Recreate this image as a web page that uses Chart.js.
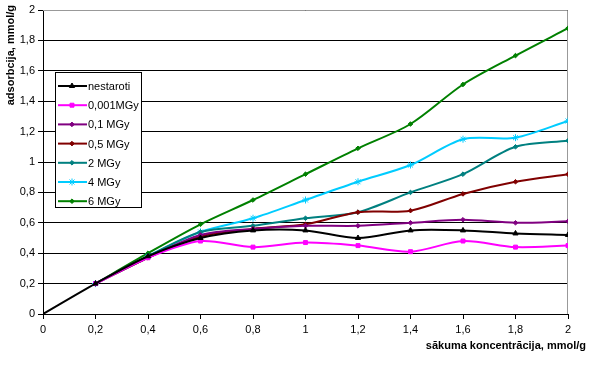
<!DOCTYPE html>
<html>
<head>
<meta charset="utf-8">
<script src="https://cdn.jsdelivr.net/npm/chart.js@4"></script>
<style>
  html, body { margin: 0; padding: 0; background: #fff; }
  #wrap { width: 600px; height: 366px; }
</style>
</head>
<body>
<div id="wrap"><canvas id="adsChart" width="600" height="366"></canvas></div>
<script>
// x values (initial concentration, mmol/g)
const concentrations = [0, 0.2, 0.4, 0.6, 0.8, 1.0, 1.2, 1.4, 1.6, 1.8, 2.0];

// adsorption, mmol/g
const nestaroti = [0, 0.2, 0.38, 0.50, 0.55, 0.55, 0.50, 0.55, 0.55, 0.53, 0.52];
const mgy0001   = [null, 0.2, 0.37, 0.48, 0.44, 0.47, 0.45, 0.41, 0.48, 0.44, 0.45];
const mgy01     = [null, 0.2, 0.37, 0.52, 0.56, 0.58, 0.58, 0.60, 0.62, 0.60, 0.61];
const mgy05     = [null, 0.2, 0.37, 0.51, 0.56, 0.59, 0.67, 0.68, 0.79, 0.87, 0.92];
const mgy2      = [null, 0.2, 0.38, 0.54, 0.58, 0.63, 0.67, 0.80, 0.92, 1.10, 1.14];
const mgy4      = [null, 0.2, 0.38, 0.54, 0.63, 0.75, 0.87, 0.98, 1.15, 1.16, 1.27];
const mgy6      = [null, 0.2, 0.40, 0.59, 0.75, 0.92, 1.09, 1.25, 1.51, 1.70, 1.88];

const seriesLabels = ['nestaroti', '0,001MGy', '0,1 MGy', '0,5 MGy', '2 MGy', '4 MGy', '6 MGy'];
const seriesValues = [nestaroti, mgy0001, mgy01, mgy05, mgy2, mgy4, mgy6];
const seriesColors = ['#000000', '#FF00FF', '#800080', '#800000', '#008080', '#00CCFF', '#008000'];
const seriesMarkers = ['triangle', 'rect', 'rectRot', 'rectRot', 'rectRot', 'star', 'rectRot'];
const markerSizes = [3, 2.8, 2.3, 2.3, 2.3, 3.5, 2.3];

const FONT = '"Liberation Sans", Arial, sans-serif';

function fmt(v) {
    return (Math.round(v * 10) / 10).toString().replace('.', ',');
}

// Frame, titles and inset legend
const decorPlugin = {
    id: 'decor',
    beforeDatasetsDraw(chart) {
        const { ctx, chartArea: a } = chart;
        ctx.save();
        ctx.strokeStyle = '#999';
        ctx.lineWidth = 1;
        ctx.beginPath();
        ctx.moveTo(a.left, a.top + 0.5);
        ctx.lineTo(a.right - 0.5, a.top + 0.5);
        ctx.lineTo(a.right - 0.5, a.bottom);
        ctx.stroke();
        ctx.restore();
    },
    afterDraw(chart) {
        const { ctx } = chart;
        ctx.save();
        // axis titles
        ctx.fillStyle = '#000';
        ctx.font = 'bold 11px ' + FONT;
        ctx.textBaseline = 'middle';
        ctx.textAlign = 'right';
        ctx.fillText('sākuma koncentrācija, mmol/g', 586, 346);
        ctx.translate(11, 5);
        ctx.rotate(-Math.PI / 2);
        ctx.textAlign = 'right';
        ctx.fillText('adsorbcija, mmol/g', 0, 0);
        ctx.restore();

        // legend box
        const bx = 55, by = 72, bw = 86, bh = 135;
        ctx.save();
        ctx.fillStyle = '#fff';
        ctx.fillRect(bx, by, bw, bh);
        ctx.strokeStyle = '#000';
        ctx.lineWidth = 1;
        ctx.strokeRect(bx + 0.5, by + 0.5, bw, bh);
        ctx.font = '11px ' + FONT;
        ctx.textBaseline = 'middle';
        ctx.textAlign = 'left';
        seriesLabels.forEach((lab, i) => {
            const y = by + 14 + i * 19.2;
            ctx.strokeStyle = seriesColors[i];
            ctx.lineWidth = 2;
            ctx.beginPath();
            ctx.moveTo(bx + 3, y);
            ctx.lineTo(bx + 32, y);
            ctx.stroke();
            ctx.fillStyle = seriesColors[i];
            ctx.lineWidth = 1;
            Chart.helpers.drawPoint(ctx, {
                pointStyle: seriesMarkers[i], radius: markerSizes[i], rotation: 0, borderWidth: 1
            }, bx + 17, y);
            ctx.fillStyle = '#000';
            ctx.fillText(lab, bx + 33, y + 1);
        });
        ctx.restore();
    }
};

const datasets = seriesLabels.map((lab, i) => ({
    label: lab,
    data: concentrations.map((x, j) => ({ x: x, y: seriesValues[i][j] })),
    borderColor: seriesColors[i],
    backgroundColor: seriesColors[i],
    borderWidth: 2,
    pointStyle: seriesMarkers[i],
    pointRadius: markerSizes[i],
    pointBorderWidth: 1,
    tension: 0.3,
    spanGaps: false
}));

new Chart(document.getElementById('adsChart'), {
    type: 'line',
    data: { datasets: datasets },
    plugins: [decorPlugin],
    options: {
        responsive: false,
        animation: false,
        layout: { padding: { top: 10, right: 32, left: 0, bottom: 0 } },
        plugins: {
            legend: { display: false },
            tooltip: { enabled: false }
        },
        scales: {
            x: {
                type: 'linear',
                min: 0,
                max: 2,
                afterFit(scale) { scale.height = 52; },
                ticks: {
                    stepSize: 0.2,
                    color: '#000',
                    font: { family: FONT, size: 11 },
                    padding: 4,
                    maxRotation: 0,
                    callback: v => fmt(v)
                },
                grid: {
                    drawOnChartArea: false,
                    drawTicks: true,
                    tickLength: 5,
                    color: '#000'
                },
                border: { color: '#000', width: 1 }
            },
            y: {
                min: 0,
                max: 2,
                afterFit(scale) { scale.width = 43; },
                ticks: {
                    stepSize: 0.2,
                    color: '#000',
                    font: { family: FONT, size: 11 },
                    padding: 3,
                    callback: v => fmt(v)
                },
                grid: {
                    color: '#000',
                    lineWidth: 1,
                    tickLength: 5
                },
                border: { color: '#000', width: 1 }
            }
        }
    }
});
</script>
</body>
</html>
